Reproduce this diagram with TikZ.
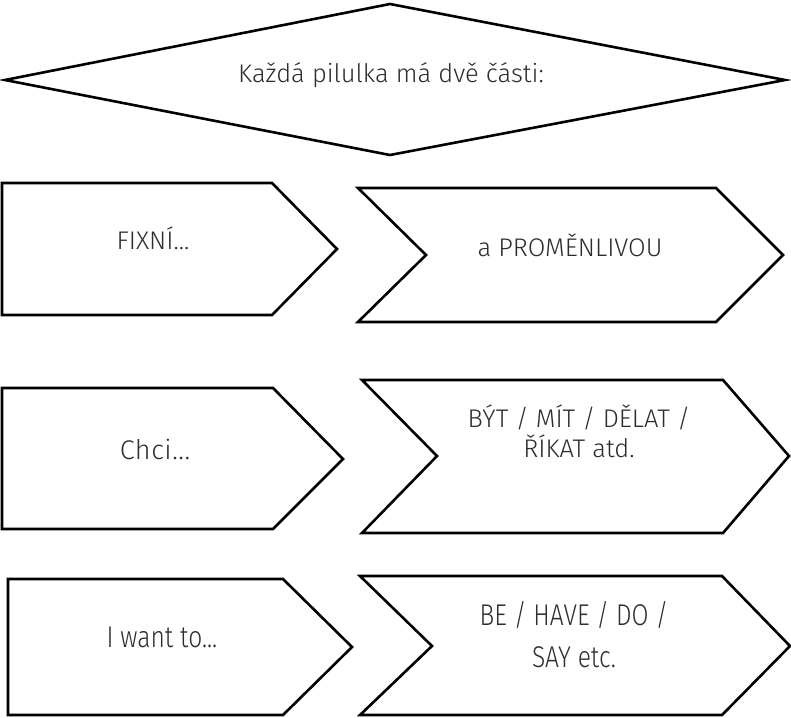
\documentclass[tikz,border=0pt]{standalone}
\usepackage{fontspec}
\setmainfont{Fira Sans}[UprightFont={* Light}]
\definecolor{inkgray}{RGB}{45,45,45}
\begin{document}
\begin{tikzpicture}[x=1pt,y=-1pt,
  outline/.style={draw=black,line width=2.6pt,line join=miter,fill=white},
  label/.style={text=inkgray,anchor=base,inner sep=0pt},
  medium/.style={font=\fontsize{25.5}{30}\selectfont},
  spaced/.style={font=\fontsize{27}{30}\selectfont\addfontfeature{LetterSpace=2}},
  large/.style={font=\fontsize{30}{42}\selectfont\addfontfeature{FakeStretch=0.82}}]
\useasboundingbox (0,0) rectangle (791,717);

% heading diamond
\draw[outline] (5,80) -- (390,4) -- (785,80) -- (390,155) -- cycle;
\node[label,medium] (head) at (391,82) {Každá pilulka má dvě části:};

% row 1
\draw[outline] (2,183) -- (272,183) -- (337,249) -- (272,315) -- (2,315) -- cycle;
\draw[outline] (358,188) -- (716,188) -- (783,255) -- (716,322) -- (358,322) -- (426,255) -- cycle;
\node[label,medium] (fix1) at (153,249) {FIXNÍ...};
\node[label,medium] (var1) at (570,256) {a PROMĚNLIVOU};

% row 2
\draw[outline] (2,388) -- (273,388) -- (343,459) -- (273,529) -- (2,529) -- cycle;
\draw[outline] (362,380) -- (723,380) -- (789,456) -- (723,533) -- (362,533) -- (437,456) -- cycle;
\node[label,spaced] (fix2) at (155,459) {Chci...};
\node[label,medium] (var2a) at (579,427) {BÝT / MÍT / DĚLAT /};
\node[label,medium] (var2b) at (579,457) {ŘÍKAT atd.};

% row 3
\draw[outline] (8,579) -- (283,579) -- (352,647) -- (283,715) -- (8,715) -- cycle;
\draw[outline] (360,576) -- (722,576) -- (790,646) -- (722,715) -- (360,715) -- (432,646) -- cycle;
\node[label,large] (fix3) at (162,647) {I want to...};
\node[label,large] (var3a) at (574,625) {BE / HAVE / DO /};
\node[label,large] (var3b) at (574,667) {SAY etc.};
\end{tikzpicture}
\end{document}
